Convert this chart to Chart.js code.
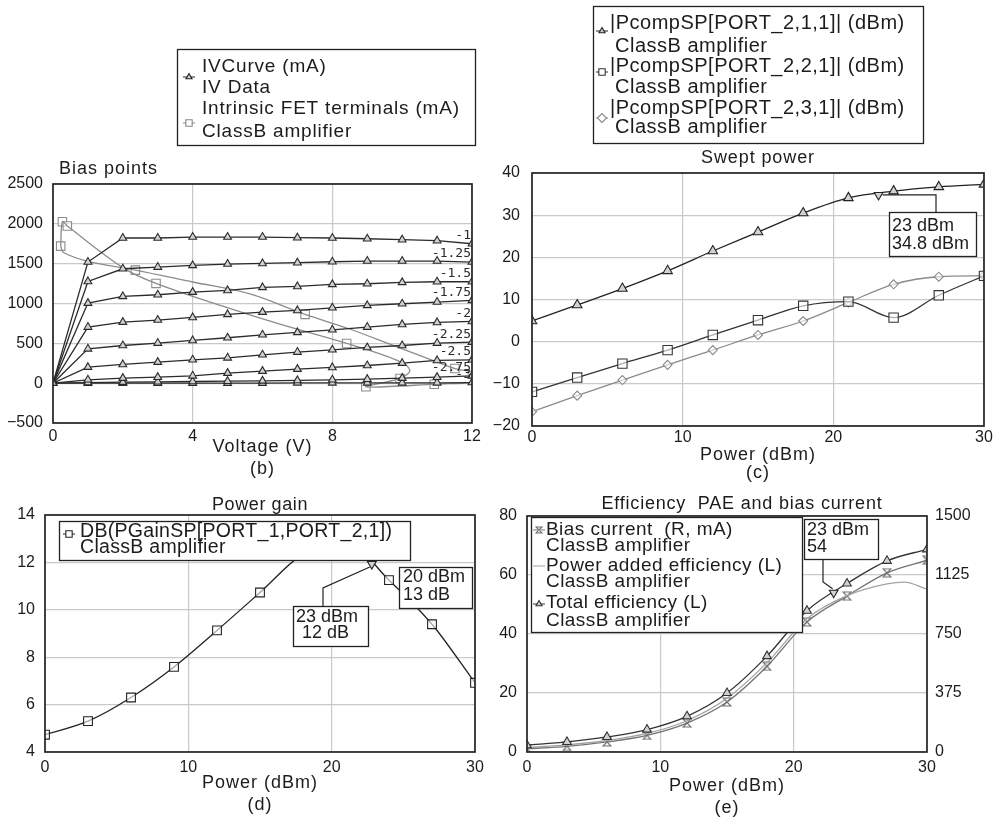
<!DOCTYPE html>
<html><head><meta charset="utf-8">
<script src="https://cdn.jsdelivr.net/npm/chart.js@4.4.1/dist/chart.umd.min.js"></script>
<style>
html,body{margin:0;padding:0;background:#fff;}
body{position:relative;width:1003px;height:819px;overflow:hidden;}
canvas{position:absolute;}
</style></head><body>
<canvas id="chartB" width="490" height="480" style="left:0px;top:0px"></canvas>
<canvas id="chartC" width="513" height="482" style="left:490px;top:0px"></canvas>
<canvas id="chartD" width="490" height="336" style="left:0px;top:480px"></canvas>
<canvas id="chartE" width="513" height="339" style="left:490px;top:480px"></canvas>
<script>
// ---------------- DATA ----------------
// (b) Bias points: IV curves (drain current mA vs drain voltage V) per gate voltage
const bVoltage = [0,1,2,3,4,5,6,7,8,9,10,11,12];
const bGateLabels = ['-1','-1.25','-1.5','-1.75','-2','-2.25','-2.5','-2.75','-3'];
const bIdVg100 = [0,1520,1822,1822,1834,1834,1834,1826,1822,1813,1801,1788,1750];
const bIdVg125 = [0,1277,1436,1457,1478,1495,1503,1512,1524,1533,1533,1533,1520];
const bIdVg150 = [0,1005,1089,1110,1143,1164,1202,1214,1240,1248,1265,1273,1273];
const bIdVg175 = [0,704,766,792,825,863,892,913,946,976,997,1018,1039];
const bIdVg200 = [0,431,473,503,536,570,607,637,670,704,737,762,775];
const bIdVg225 = [0,201,235,264,293,318,356,390,419,448,473,503,515];
const bIdVg250 = [0,42,63,75,92,126,151,176,197,222,251,285,293];
const bIdVg275 = [0,8,13,17,21,25,29,34,42,50,63,75,92];
const bIdVg300 = [0,0,0,0,0,0,0,4,4,4,4,4,8];
// dynamic load line (intrinsic FET terminals)
const bLoopV = [0.22,0.27,0.41,2.0,2.95,4.97,6.5,8.41,9.84,10.22,9.94,8.96,10.92,12.4,12.4,11.51,10.99,9.89,8.5,7.22,5.64,4.0,2.36,1.0,0.30,0.22];
const bLoopI = [1720,2026,1972,1450,1252,950,740,498,289,163,59,-45,-13,30,110,184,268,448,680,863,1120,1270,1419,1530,1640,1720];
const bSampleV = [0.27,0.41,0.22,2.36,2.95,7.22,8.41,9.94,8.96,10.92,11.51];
const bSampleI = [2026,1972,1720,1419,1252,863,498,59,-45,-13,184];
const bXTicks = [0,4,8,12];
const bYTicks = [-500,0,500,1000,1500,2000,2500];

// (c) Swept power
const cPower  = [0,3,6,9,12,15,18,21,24,27,30];
const cHarm1  = [4.9,8.7,12.6,16.8,21.5,26.0,30.5,34.1,35.7,36.7,37.3];
const cHarm2  = [-11.9,-8.5,-5.2,-2.0,1.6,5.1,8.5,9.5,5.7,11.0,15.6];
const cHarm3  = [-16.6,-12.8,-9.1,-5.5,-2.0,1.6,4.9,9.3,13.6,15.4,15.6];
const cMarkerX = [23];
const cMarkerY = [34.8];
const cXTicks = [0,10,20,30];
const cYTicks = [-20,-10,0,10,20,30,40];

// (d) Power gain
const dPower = [0,3,6,9,12,15,18,21,24,27,30];
const dGain  = [4.73,5.30,6.30,7.59,9.13,10.73,12.35,12.85,11.25,9.39,6.92];
const dMarkerX = [22.8];
const dMarkerY = [11.93];
const dXTicks = [0,10,20,30];
const dYTicks = [4,6,8,10,12,14];

// (e) Efficiency, PAE and bias current
const ePower = [0,3,6,9,12,15,18,21,24,27,30];
const eTotalEff = [2.3,3.4,5.1,7.6,12.1,20.0,32.5,47.9,57.1,64.8,68.7];
const eBiasMA   = [21,36,64,106,184,318,545,827,991,1139,1219];
const ePaePower = [0,3,6,9,12,15,18,21,24,27,28.3,30];
const ePae      = [1.5,2.4,3.9,6.3,10.6,18.2,30.3,45.2,53.0,57.0,57.6,55.2];
const eMarkerX = [23];
const eMarkerY = [54];
const eXTicks = [0,10,20,30];
const eYTicks = [0,20,40,60,80];
const eY1Ticks = [0,375,750,1125,1500];

// ---------------- HELPERS ----------------
const ARIAL = '"Liberation Sans", Arial, sans-serif';
const MONO = '"DejaVu Sans Mono", monospace';
const INK = '#1c1c1c';
Chart.defaults.animation = false;
Chart.defaults.responsive = false;
Chart.defaults.events = [];
Chart.defaults.plugins.legend.display = false;
Chart.defaults.plugins.tooltip.enabled = false;
Chart.defaults.color = INK;

const pts = (xs, ys) => xs.map((x, i) => ({x: x, y: ys[i]}));
const fmt = v => (v < 0 ? '\u2212' + Math.abs(v) : String(v));
const fixedTicks = arr => s => { s.ticks = arr.map(v => ({value: v})); };

function spacedTitle(s) {
  if (s._spaced) return;
  const orig = s.drawTitle.bind(s);
  s.drawTitle = function () {
    const c = this.ctx; const prev = c.letterSpacing;
    c.letterSpacing = '1px'; orig(); c.letterSpacing = prev || '0px';
  };
  s._spaced = true;
}
function xAxis(min, max, ticks, title, lh, height, pad) {
  return {
    type: 'linear', min: min, max: max, afterBuildTicks: fixedTicks(ticks),
    grid: {color: '#c9c9c9', lineWidth: 1.2, drawTicks: false},
    border: {display: false},
    ticks: {font: {family: ARIAL, size: 16}, color: INK, padding: pad, maxRotation: 0, autoSkip: false, callback: v => fmt(v)},
    title: {display: true, text: title, font: {family: ARIAL, size: 18, lineHeight: lh / 18}, color: INK, padding: 0},
    afterFit: s => { s.height = height; spacedTitle(s); }
  };
}
function yAxis(min, max, ticks, width, pad, pos, grid) {
  return {
    type: 'linear', min: min, max: max, position: pos || 'left', afterBuildTicks: fixedTicks(ticks),
    grid: {color: '#c9c9c9', lineWidth: 1.2, drawTicks: false, drawOnChartArea: grid !== false},
    border: {display: false},
    ticks: {font: {family: ARIAL, size: 16}, color: INK, padding: pad, autoSkip: false, callback: v => fmt(v)},
    afterFit: s => { s.width = width; }
  };
}
function txt(ctx, s, x, y, font, align, color, ls) {
  ctx.save();
  ctx.font = font; ctx.textAlign = align || 'left'; ctx.textBaseline = 'middle';
  ctx.letterSpacing = (ls || 0) + 'px';
  ctx.fillStyle = color || INK; ctx.fillText(s, x, y);
  ctx.restore();
}
function boxAt(ctx, x0, y0, x1, y1) {
  ctx.fillStyle = '#fff'; ctx.fillRect(x0, y0, x1 - x0, y1 - y0);
  ctx.strokeStyle = '#222'; ctx.lineWidth = 1.3; ctx.strokeRect(x0 + 0.5, y0 + 0.5, x1 - x0, y1 - y0);
}
function frame(ctx, ca) {
  ctx.strokeStyle = '#262626'; ctx.lineWidth = 1.7;
  ctx.strokeRect(ca.left, ca.top, ca.right - ca.left, ca.bottom - ca.top);
}
function mark(ctx, style, x, y, r, stroke, fill, rot) {
  ctx.save(); ctx.strokeStyle = stroke; ctx.fillStyle = fill || 'rgba(0,0,0,0)'; ctx.lineWidth = 1.1;
  Chart.helpers.drawPoint(ctx, {pointStyle: style, radius: r, rotation: rot || 0, borderWidth: 1.1}, x, y);
  ctx.restore();
}
function legMark(ctx, style, x, y, r, stroke, fill) {
  ctx.strokeStyle = stroke; ctx.lineWidth = 1; ctx.beginPath(); ctx.moveTo(x - 6, y); ctx.lineTo(x + 6, y); ctx.stroke();
  if (style) mark(ctx, style, x, y, r, stroke, fill);
}
function lines(ctx, arr, font, ls) { arr.forEach(a => txt(ctx, a[0], a[1], a[2], font, 'left', INK, ls)); }
function hourglass(size, color) {
  const c = document.createElement('canvas'); c.width = size; c.height = size;
  const g = c.getContext('2d'); g.strokeStyle = color; g.lineWidth = 1.2;
  g.beginPath(); g.moveTo(1, 1); g.lineTo(size - 1, 1); g.lineTo(1, size - 1); g.lineTo(size - 1, size - 1); g.closePath(); g.stroke();
  return c;
}
function series(data, color, style, r, fill, extra) {
  return Object.assign({data: data, borderColor: color, borderWidth: 1.3, fill: false, tension: 0,
    pointStyle: style, pointRadius: r, pointBorderColor: color, pointBackgroundColor: fill || 'rgba(0,0,0,0)', pointBorderWidth: 1.1}, extra || {});
}

// ---------------- (b) ----------------
const bCurves = [bIdVg100, bIdVg125, bIdVg150, bIdVg175, bIdVg200, bIdVg225, bIdVg250, bIdVg275, bIdVg300];
const bExtras = {id: 'bExtras', afterDraw(chart) {
  const ctx = chart.ctx, ca = chart.chartArea, ys = chart.scales.y; ctx.save();
  frame(ctx, ca);
  bCurves.forEach((c, i) => txt(ctx, bGateLabels[i], ca.right - 1, ys.getPixelForValue(c[c.length - 1]) - 8, '13px ' + MONO, 'right', '#2a2a2a'));
  txt(ctx, 'Bias points', 59, 169, '18px ' + ARIAL, 'left', INK, 1);
  boxAt(ctx, 177, 49, 475, 145);
  lines(ctx, [['IVCurve (mA)', 202, 67], ['IV Data', 202, 88], ['Intrinsic FET terminals (mA)', 202, 109], ['ClassB amplifier', 202, 132]], '19px ' + ARIAL, 0.8);
  legMark(ctx, 'triangle', 189, 77, 3.5, '#222', '#ccc');
  legMark(ctx, 'rect', 189, 123, 4.5, '#888', '#fff');
  ctx.restore();
}};
new Chart(document.getElementById('chartB'), {
  type: 'line',
  data: {datasets: bCurves.map(c => series(pts(bVoltage, c), '#2b2b2b', 'triangle', 4.5, '#d2d2d2'))
    .concat([
      series(pts(bLoopV, bLoopI), '#8c8c8c', false, 0, null, {tension: 0.35, clip: 0}),
      series(pts(bSampleV, bSampleI), '#8c8c8c', 'rect', 6, 'rgba(255,255,255,0.6)', {showLine: false})
    ])},
  options: {
    layout: {padding: {top: 184, right: 18, left: 0, bottom: 0}},
    scales: {x: xAxis(0, 12, bXTicks, ['Voltage (V)', '(b)'], 22, 57, 4), y: yAxis(-500, 2500, bYTicks, 53, 10)}
  },
  plugins: [bExtras]
});

// ---------------- (c) ----------------
const cExtras = {id: 'cExtras', afterDraw(chart) {
  const ctx = chart.ctx, ca = chart.chartArea, xs = chart.scales.x, ys = chart.scales.y; ctx.save();
  frame(ctx, ca);
  txt(ctx, 'Swept power', (ca.left + ca.right) / 2, 158, '18px ' + ARIAL, 'center', INK, 0.9);
  boxAt(ctx, 103, 6, 433, 143);
  lines(ctx, [['|PcompSP[PORT_2,1,1]| (dBm)', 120, 23], ['ClassB amplifier', 125, 46],
    ['|PcompSP[PORT_2,2,1]| (dBm)', 120, 66], ['ClassB amplifier', 125, 87],
    ['|PcompSP[PORT_2,3,1]| (dBm)', 120, 108], ['ClassB amplifier', 125, 127]], '20px ' + ARIAL, 0.5);
  legMark(ctx, 'triangle', 112, 31, 3.5, '#222', '#ccc');
  legMark(ctx, 'rect', 112, 72, 4.5, '#333', '#fff');
  legMark(ctx, 'rectRot', 112, 118, 4.5, '#888', '#fff');
  const mx = xs.getPixelForValue(cMarkerX[0]), my = ys.getPixelForValue(cMarkerY[0]);
  ctx.strokeStyle = '#222'; ctx.lineWidth = 1.2; ctx.beginPath();
  ctx.moveTo(mx + 4, my); ctx.lineTo(446, my); ctx.lineTo(446, 212); ctx.stroke();
  boxAt(ctx, 399, 212, 486, 256);
  lines(ctx, [['23 dBm', 402, 226], ['34.8 dBm', 402, 244]], '18px ' + ARIAL, 0);
  ctx.restore();
}};
new Chart(document.getElementById('chartC'), {
  type: 'line',
  data: {datasets: [
    series(pts(cMarkerX, cMarkerY), '#222', 'triangle', 5, '#d2d2d2', {showLine: false, pointRotation: 180}),
    series(pts(cPower, cHarm1), '#222', 'triangle', 5.5, '#d2d2d2', {cubicInterpolationMode: 'monotone'}),
    series(pts(cPower, cHarm2), '#333', 'rect', 6.6, 'rgba(255,255,255,0.6)', {cubicInterpolationMode: 'monotone'}),
    series(pts(cPower, cHarm3), '#8a8a8a', 'rectRot', 4.5, 'rgba(255,255,255,0.6)', {cubicInterpolationMode: 'monotone'})
  ]},
  options: {
    layout: {padding: {top: 173, right: 19, left: 0, bottom: 0}},
    scales: {x: xAxis(0, 30, cXTicks, ['Power (dBm)', '(c)'], 18, 56, 1.5), y: yAxis(-20, 40, cYTicks, 42, 12)}
  },
  plugins: [cExtras]
});

// ---------------- (d) ----------------
const dExtras = {id: 'dExtras', afterDraw(chart) {
  const ctx = chart.ctx, ca = chart.chartArea, xs = chart.scales.x, ys = chart.scales.y; ctx.save();
  frame(ctx, ca);
  txt(ctx, 'Power gain', (ca.left + ca.right) / 2, 25, '18px ' + ARIAL, 'center', INK, 0.6);
  boxAt(ctx, 59, 41, 410, 80);
  lines(ctx, [['DB(PGainSP[PORT_1,PORT_2,1])', 80, 52], ['ClassB amplifier', 80, 68]], '19.5px ' + ARIAL, 0.3);
  legMark(ctx, 'rect', 69, 54, 4.5, '#222', '#fff');
  boxAt(ctx, 399, 87, 472, 128);
  lines(ctx, [['20 dBm', 403, 97], ['13 dB', 403, 115]], '18px ' + ARIAL, 0);
  const mx = xs.getPixelForValue(dMarkerX[0]), my = ys.getPixelForValue(dMarkerY[0]);
  ctx.strokeStyle = '#222'; ctx.lineWidth = 1.2; ctx.beginPath();
  ctx.moveTo(323, 126); ctx.lineTo(323, 108); ctx.lineTo(mx - 2, my + 3); ctx.stroke();
  boxAt(ctx, 293, 126, 368, 166);
  lines(ctx, [['23 dBm', 296, 137], ['12 dB', 302, 153]], '18px ' + ARIAL, 0);
  ctx.restore();
}};
new Chart(document.getElementById('chartD'), {
  type: 'line',
  data: {datasets: [
    series(pts(dMarkerX, dMarkerY), '#222', 'triangle', 5, '#d2d2d2', {showLine: false, pointRotation: 180}),
    series(pts(dPower, dGain), '#222', 'rect', 6.2, 'rgba(255,255,255,0.6)', {cubicInterpolationMode: 'monotone'})
  ]},
  options: {
    layout: {padding: {top: 35, right: 15, left: 0, bottom: 0}},
    scales: {x: xAxis(0, 30, dXTicks, ['Power (dBm)', '(d)'], 22, 64, 6), y: yAxis(4, 14, dYTicks, 45, 10)}
  },
  plugins: [dExtras]
});

// ---------------- (e) ----------------
const hgPoint = hourglass(10, '#6f6f6f');
const hgLegend = hourglass(8, '#6f6f6f');
const eExtras = {id: 'eExtras', afterDraw(chart) {
  const ctx = chart.ctx, ca = chart.chartArea, xs = chart.scales.x, ys = chart.scales.y; ctx.save();
  frame(ctx, ca);
  txt(ctx, 'Efficiency  PAE and bias current', 252, 24, '18px ' + ARIAL, 'center', INK, 0.8);
  boxAt(ctx, 41, 37, 312, 152);
  lines(ctx, [['Bias current  (R, mA)', 56, 50], ['ClassB amplifier', 56, 66],
    ['Power added efficiency (L)', 56, 86], ['ClassB amplifier', 56, 102],
    ['Total efficiency (L)', 56, 123], ['ClassB amplifier', 56, 141]], '19px ' + ARIAL, 0.45);
  legMark(ctx, null, 49, 50, 0, '#777');
  ctx.drawImage(hgLegend, 45, 46);
  legMark(ctx, null, 49, 86, 0, '#a0a0a0');
  legMark(ctx, 'triangle', 49, 124, 3.5, '#333', '#ccc');
  boxAt(ctx, 314, 39, 388, 79);
  lines(ctx, [['23 dBm', 317, 50], ['54', 317, 67]], '18px ' + ARIAL, 0);
  const mx = xs.getPixelForValue(eMarkerX[0]), my = ys.getPixelForValue(eMarkerY[0]);
  ctx.strokeStyle = '#222'; ctx.lineWidth = 1.2; ctx.beginPath();
  ctx.moveTo(333, 80); ctx.lineTo(333, 102); ctx.lineTo(mx - 1, my - 4); ctx.stroke();
  ctx.restore();
}};
new Chart(document.getElementById('chartE'), {
  type: 'line',
  data: {datasets: [
    series(pts(eMarkerX, eMarkerY), '#222', 'triangle', 5, '#d2d2d2', {showLine: false, pointRotation: 180}),
    series(pts(ePower, eTotalEff), '#333', 'triangle', 5, '#d2d2d2', {cubicInterpolationMode: 'monotone'}),
    series(pts(ePaePower, ePae), '#a3a3a3', false, 0, null, {cubicInterpolationMode: 'monotone'}),
    series(pts(ePower, eBiasMA), '#737373', hgPoint, 5, null, {cubicInterpolationMode: 'monotone', yAxisID: 'y1'})
  ]},
  options: {
    layout: {padding: {top: 36, right: 0, left: 0, bottom: 0}},
    scales: {
      x: xAxis(0, 30, eXTicks, ['Power (dBm)', '(e)'], 22, 67, 6),
      y: yAxis(0, 80, eYTicks, 37, 10),
      y1: yAxis(0, 1500, eY1Ticks, 76, 8, 'right', false)
    }
  },
  plugins: [eExtras]
});
</script>
</body></html>
